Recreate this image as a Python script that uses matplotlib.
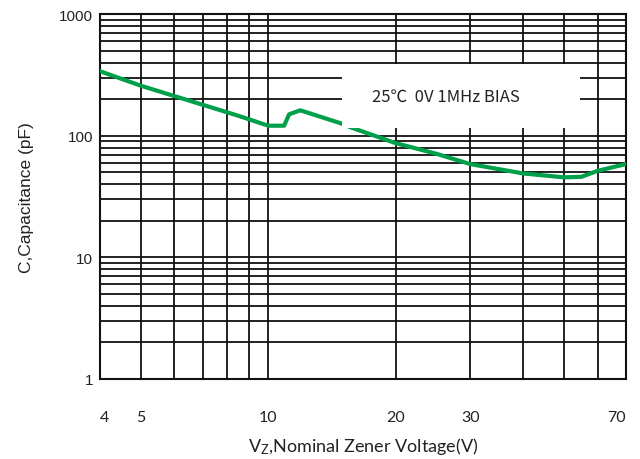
#!/usr/bin/env python3
"""
Zener capacitance vs nominal voltage (log-log datasheet chart)
"""

import matplotlib
matplotlib.use("Agg")
import matplotlib.pyplot as plt
from matplotlib.patches import Rectangle
from matplotlib.ticker import FixedLocator, NullFormatter, LogLocator


# ═══════════════════════════════════════════
# Data
# ═══════════════════════════════════════════

VZ = [4, 5, 8.5, 10, 10.9, 11.2, 11.9, 14.8, 15.8, 20, 25, 30, 40, 50, 55, 60, 70]
CAP = [340, 258, 146, 121, 121, 150, 162, 127, 116, 87, 71, 58.5, 49, 45.5, 46, 51.5, 58.5]

X_TICKS = [4, 5, 10, 20, 30, 70]
Y_TICKS = [1, 10, 100, 1000]
X_GRID = [5, 6, 7, 8, 9, 10, 20, 30, 40, 50, 60]

NOTE = "25\u2103  0V 1MHz BIAS"

# Colors
CURVE = "#00A04A"
GRID = "#111111"
TXT = "#222222"


# ═══════════════════════════════════════════
# Plot
# ═══════════════════════════════════════════

fig = plt.figure(figsize=(6.4, 4.6), dpi=100)
ax = fig.add_axes([0.156, 0.174, 0.822, 0.793])

ax.set_xscale("log")
ax.set_yscale("log")
ax.set_xlim(4, 70)
ax.set_ylim(1, 1000)

# grid: explicit verticals, standard log minors horizontally
ax.xaxis.set_major_locator(FixedLocator(X_TICKS))
ax.xaxis.set_minor_locator(FixedLocator(X_GRID))
ax.xaxis.set_minor_formatter(NullFormatter())
ax.yaxis.set_major_locator(FixedLocator(Y_TICKS))
ax.yaxis.set_minor_locator(LogLocator(base=10, subs=range(2, 10)))
ax.yaxis.set_minor_formatter(NullFormatter())

for v in X_GRID:
    ax.axvline(v, color=GRID, lw=1.3, zorder=1)
for t in ax.yaxis.get_minorticklocs():
    if 1 < t < 1000:
        ax.axhline(t, color=GRID, lw=1.3, zorder=1)
for t in Y_TICKS[1:-1]:
    ax.axhline(t, color=GRID, lw=1.3, zorder=1)

ax.tick_params(which="both", length=0)
ax.tick_params(axis="x", pad=22)
ax.tick_params(axis="y", pad=5)

ax.set_xticklabels([str(v) for v in X_TICKS], fontsize=11.5, family="Lato", color=TXT)
ax.set_yticklabels([str(v) for v in Y_TICKS], fontsize=11, family="Liberation Sans", color=TXT)
xl = ax.get_xticklabels()
xl[0].set_ha("left")
xl[-1].set_ha("right")

for s in ax.spines.values():
    s.set_color(GRID)
    s.set_linewidth(1.5)

# ── curve ──
ax.plot(VZ, CAP, color=CURVE, lw=3.0, solid_joinstyle="round", zorder=3)

# ── condition note (white box hides grid + curve) ──
ax.add_patch(Rectangle((0.46, 0.689), 0.4525, 0.174, transform=ax.transAxes,
                       facecolor="white", edgecolor="none", zorder=4))
ax.text(0.517, 0.775, NOTE, transform=ax.transAxes, ha="left", va="center",
        fontsize=12, family=["Noto Sans CJK SC", "DejaVu Sans"], color=TXT, zorder=5)

plt.rcParams["mathtext.default"] = "regular"
ax.set_xlabel(r"V$_\mathregular{Z}$,Nominal Zener Voltage(V)", fontsize=13,
              family="Lato", color=TXT, labelpad=8)
ax.set_ylabel("C,Capacitance (pF)", fontsize=12.5, family="Liberation Sans",
              color=TXT, labelpad=18)

plt.savefig("out.png", dpi=100)
plt.close()
